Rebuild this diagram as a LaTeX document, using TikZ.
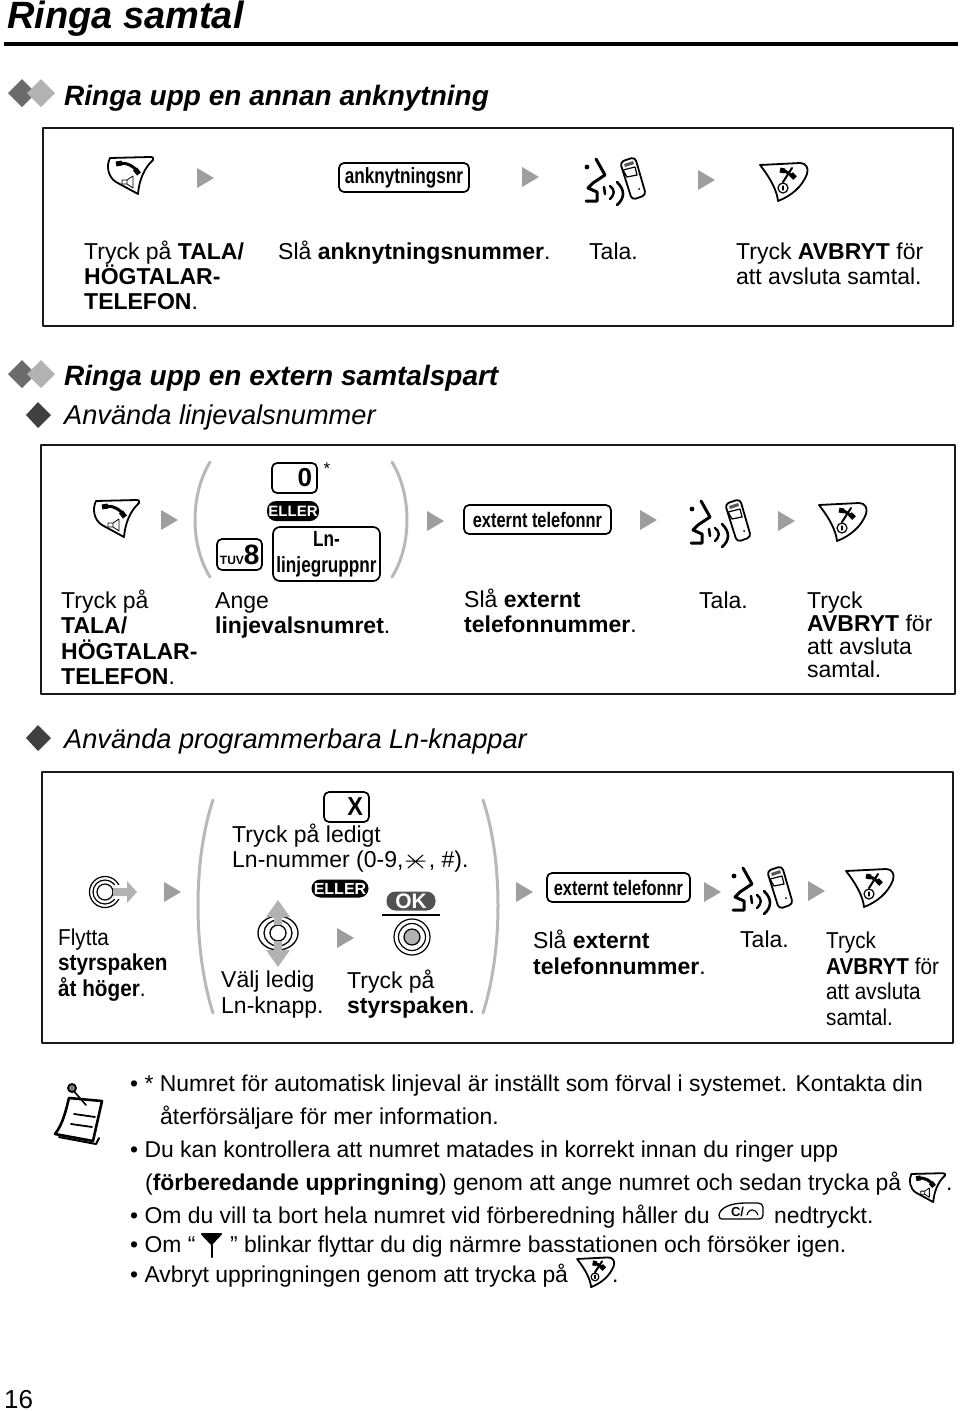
\documentclass[tikz,border=0pt]{standalone}
\usepackage{fontspec}
\setmainfont{Liberation Sans}
\newfontfamily\condfont[FakeStretch=.9]{Liberation Sans}
\newfontfamily\keyfont[FakeStretch=.78]{Liberation Sans}
\newcommand{\stepstrut}{\rule{0pt}{20pt}}
\usepackage{tikz}
\usetikzlibrary{calc,shapes.geometric}

\begin{document}
\begin{tikzpicture}[x=1pt,y=-1pt,line cap=round,line join=round,
  steptext/.style={font=\fontsize{23}{25}\selectfont,align=left,anchor=north west,inner sep=0pt},
  widetext/.style={steptext,font=\fontsize{23}{25.5}\selectfont},
  tighttext/.style={steptext,font=\fontsize{23}{23}\selectfont},
  narrowtext/.style={steptext,font=\condfont\fontsize{23}{25.6}\selectfont},
  notetext/.style={font=\fontsize{22.9}{24}\selectfont,anchor=base west,inner sep=0pt},
  headtext/.style={font=\fontsize{28}{32}\selectfont\bfseries\itshape,anchor=base west,inner sep=0pt},
  subtext/.style={headtext,font=\fontsize{27.2}{30}\selectfont\itshape},
  frame/.style={draw=black!90,line width=2.6pt,line cap=butt},
  paren/.style={draw=black!28,line width=3pt},
  keybox/.style={draw,rounded corners=5pt,line width=1.7pt,inner sep=0pt},
  keytext/.style={keybox,font=\keyfont\bfseries\fontsize{21}{24}\selectfont,align=center,minimum height=29pt},
  stepmark/.style={fill=black!38},
  greyblock/.style={fill=black!30},
  ellerpill/.style={fill=black,text=white,rounded corners=9pt,inner sep=0pt,font=\bfseries\fontsize{15}{15}\selectfont},
  talakey/.pic={
    \draw[line width=1.8pt] (-20,-18)--(20,-19) .. controls (23,-19) and (24,-18) .. (23,-16)
      .. controls (14,-8) and (9,5) .. (8,18) -- (-14,6) .. controls (-22,1) and (-24,-10) .. (-20,-18)--cycle;
    \draw[line width=3pt,line cap=butt] (-12,-12) .. controls (-5,-15) and (6,-9) .. (8,-3);
    \draw[line width=5pt,line cap=butt] (-14,-12)--(-8,-13) (5,-7)--(9,-2);
    \draw[line width=.8pt] (-8,4)--(-3,4)--(3,0)--(3,12)--(-3,8)--(-8,8)--cycle (-3,4)--(-3,8);
  },
  cutkey/.pic={
    \draw[line width=1.8pt] (-23,-18)--(17,-20) .. controls (23,-20) and (26,-15) .. (24,-9)
      .. controls (19,4) and (8,13) .. (-5,18) .. controls (-6,8) and (-12,-4) .. (-23,-18)--cycle;
    \draw[line width=3pt,line cap=butt] (-2,-13) .. controls (3,-12) and (8,-9) .. (11,-5);
    \draw[line width=5pt,line cap=butt] (-3,-13)--(2,-12) (8,-9)--(12,-5);
    \draw[line width=2pt] (0,-1)--(9,-15);
    \draw[line width=1.2pt] (0,5) circle (5);
    \draw[line width=1.2pt] (0,3)--(0,7);
  },
  talkicon/.pic={
    \fill (-28,-15) circle (2.4);
    \draw[line width=3pt] (-19,-23)--(-10,-7)--(-22,1)--(-27,6)--(-18,10)--(-18,19)--(-29,19);
    \draw[line width=2.6pt] (-11,5)--(-10,12);
    \draw[line width=2.4pt] (-5,4) .. controls (0,8) and (0,12) .. (-5,17);
    \draw[line width=2.6pt] (2,0) .. controls (10,8) and (10,16) .. (2,23);
    \draw[line width=1.8pt,rounded corners=4pt] (5,-20)--(20,-25)--(31,13)--(17,18)--cycle;
    \draw[line width=1.2pt] (8,-12)--(20,-15)--(22,-7)--(12,-5)--cycle;
    \fill[black!65] (9,-18)--(18,-21)--(19,-18)--(10,-15)--cycle;
    \fill (24,7) circle (1);
  },
  movering/.pic={
    \draw[line width=1.2pt] (0,0) circle (8);
    \draw[line width=1.2pt] (0,0) circle (12);
    \draw[line width=1.2pt] (0,0) circle (15.5);
  },
  scrollring/.pic={
    \draw[line width=1.3pt] (0,0) circle (8);
    \draw[line width=1.3pt] (0,0) ellipse (14 and 13);
    \draw[line width=1.3pt] (0,0) ellipse (20 and 17);
  },
  pressbutton/.pic={
    \fill[black!30,draw=black,line width=1.2pt] (0,0) circle (8);
    \draw[line width=1.2pt] (0,0) circle (13.5);
    \draw[line width=1.2pt] (0,0) circle (18);
  }]
  \useasboundingbox (0,0) rectangle (960,1411);

  % Page heading.
  \node[font=\fontsize{38}{42}\selectfont\bfseries\itshape,anchor=base west,inner sep=0pt] (titleline) at (7,28) {Ringa samtal};
  \draw[line width=3.4pt,line cap=butt] (4,44)--(958,44);

  % Section markers.
  \foreach \y in {93,374}{
    \fill[black!58] (8,\y)--(22,\y-14)--(36,\y)--(22,\y+14)--cycle;
    \fill[black!30] (27,\y)--(41,\y-14)--(55,\y)--(41,\y+14)--cycle;
  }
  \foreach \y in {415,738}
    \fill[black!75] (26,\y)--(38,\y-13)--(51,\y)--(38,\y+13)--cycle;
  \node[headtext] (headone) at (64,105) {Ringa upp en annan anknytning};
  \node[headtext] (headtwo) at (64,385) {Ringa upp en extern samtalspart};
  \node[subtext] (subone) at (64,424) {Använda linjevalsnummer};
  \node[subtext] (subtwo) at (64,748) {Använda programmerbara Ln-knappar};

  % Frames.
  \draw[frame] (43,128) rectangle (953,326);
  \draw[frame] (41,445) rectangle (955,694);
  \draw[frame] (42,772) rectangle (953,1043);

  % Grey step arrows.
  \foreach \x/\y in {205/178,530/177,706/180,169/520,435/521,648/520,786/521,172/892,524/892,712/892,816/891,345/938}
    \fill[stepmark] (\x-8,\y-10)--(\x+9,\y)--(\x-8,\y+10)--cycle;

  % First frame.
  \pic at (130,176) {talakey};
  \node[keytext,minimum width=130pt,font=\keyfont\bfseries\fontsize{22}{24}\selectfont] (extkey) at (404,177.5) {anknytningsnr};
  \pic at (615,182) {talkicon};
  \pic at (783,183) {cutkey};
  \node[steptext] (oneA) at (84,239) {\stepstrut Tryck på \textbf{TALA/}\\\textbf{HÖGTALAR-}\\\textbf{TELEFON}.};
  \node[steptext] (oneB) at (278,239) {\stepstrut Slå \textbf{anknytningsnummer}.};
  \node[steptext] (oneC) at (589,239) {\stepstrut Tala.};
  \node[steptext] (oneD) at (736,239) {\stepstrut Tryck \textbf{AVBRYT} för\\att avsluta samtal.};

  % Second frame.
  \pic at (116,519) {talakey};
  \draw[paren] (210,462) .. controls (190,495) and (190,545) .. (210,577);
  \draw[paren] (392,462) .. controls (412,495) and (412,545) .. (392,577);
  \node[keybox,minimum width=45pt,minimum height=30pt,text width=35pt,align=right,font=\bfseries\fontsize{26}{28}\selectfont] (zerokey) at (294.5,478) {0};
  \node[font=\fontsize{17}{18}\selectfont,inner sep=0pt] (zerostar) at (327,469) {*};
  \node[ellerpill,minimum width=52pt,minimum height=20pt] (ellerA) at (293,511) {ELLER};
  \node[keybox,minimum width=45pt,minimum height=31pt,text width=40pt,align=right] (eightkey) at (239.5,554.5)
    {\fontsize{12}{12}\selectfont\bfseries TUV\fontsize{28}{28}\selectfont 8};
  \node[keytext,minimum width=107pt,minimum height=54pt,rounded corners=7pt,font=\keyfont\bfseries\fontsize{22}{26}\selectfont] (groupkey) at (326.5,554) {Ln-\\linjegruppnr};
  \node[keytext,minimum width=147pt] (extB) at (537.5,519.5) {externt telefonnr};
  \pic at (720,524) {talkicon};
  \pic at (842,523) {cutkey};
  \node[widetext] (twoA) at (61,588) {\stepstrut Tryck på\\\textbf{TALA/}\\\textbf{HÖGTALAR-}\\\textbf{TELEFON}.};
  \node[steptext] (twoB) at (215,588) {\stepstrut Ange\\\textbf{linjevalsnumret}.};
  \node[widetext] (twoC) at (464,587) {\stepstrut Slå \textbf{externt}\\\textbf{telefonnummer}.};
  \node[steptext] (twoD) at (699,588) {\stepstrut Tala.};
  \node[tighttext] (twoE) at (807,588) {\stepstrut Tryck\\\textbf{AVBRYT} för\\att avsluta\\samtal.};

  % Third frame.
  \pic at (105,892) {movering};
  \fill[white] (114,885) rectangle (122,899);
  \fill[greyblock] (113,888)--(127,888)--(127,881)--(137,892)--(127,903)--(127,896)--(113,896)--cycle;
  \draw[paren] (213,800) .. controls (193,860) and (193,950) .. (213,1013);
  \draw[paren] (483,800) .. controls (503,860) and (503,950) .. (483,1013);
  \node[keybox,minimum width=45pt,minimum height=30pt,text width=33pt,align=right,font=\condfont\bfseries\fontsize{26}{28}\selectfont] (xkey) at (346.5,807) {X};
  \node[steptext] (threeB) at (232,822) {\stepstrut Tryck på ledigt\\Ln-nummer (0-9, \hspace{19pt}, \#).};
  \draw[line width=1pt] (408,855)--(423,868) (423,855)--(408,868) (406,861)--(425,861);
  \node[ellerpill,minimum width=57pt,minimum height=18pt,font=\bfseries\fontsize{16}{16}\selectfont] (ellerB) at (340,888.5) {ELLER};
  \node[fill=black!68,text=white,rounded corners=9pt,inner sep=0pt,minimum width=49pt,minimum height=19pt,font=\bfseries\fontsize{21}{21}\selectfont] (okpill) at (411,901) {OK};
  \draw[line width=2pt,line cap=butt] (382,915)--(440,915);
  \pic at (412,937) {pressbutton};
  % Scroll ring with up and down arrows.
  \pic at (278,933) {scrollring};
  \fill[greyblock] (274,925)--(274,917)--(266,917)--(278,900)--(290,917)--(282,917)--(282,925)--cycle;
  \fill[greyblock] (274,941)--(274,950)--(266,950)--(278,967)--(290,950)--(282,950)--(282,941)--cycle;
  \node[keytext,minimum width=143pt] (extC) at (618.5,887.5) {externt telefonnr};
  \pic at (762,891) {talkicon};
  \pic at (869,889) {cutkey};
  \node[narrowtext] (threeA) at (58,925) {\stepstrut Flytta\\\textbf{styrspaken}\\\textbf{åt höger}.};
  \node[widetext] (threeC) at (221,967.5) {\stepstrut Välj ledig\\Ln-knapp.};
  \node[steptext] (threeD) at (347,968.5) {\stepstrut Tryck på\\\textbf{styrspaken}.};
  \node[widetext] (threeE) at (533,928.5) {\stepstrut Slå \textbf{externt}\\\textbf{telefonnummer}.};
  \node[steptext] (threeF) at (740,927) {\stepstrut Tala.};
  \node[narrowtext] (threeG) at (826,928.5) {\stepstrut Tryck\\\textbf{AVBRYT} för\\att avsluta\\samtal.};

  % Notes.
  \draw[line width=2pt,fill=white] (59,1137)--(96,1144)--(99,1138);
  \draw[line width=2.6pt,fill=white] (69,1098)--(102,1101)--(93,1141)--(55,1134) .. controls (63,1124) and (66,1110) .. (69,1098)--cycle;
  \draw[line width=1.8pt] (74,1114)--(95,1117) (71,1124)--(92,1127);
  \draw[line width=1.6pt] (72,1089)--(86,1105);
  \fill[black!50,draw=black,line width=1.8pt] (72,1088) circle (4);
  \node[notetext] (noteA) at (130,1091) {• * Numret för automatisk linjeval är inställt som förval i systemet. Kontakta din};
  \node[notetext] (noteB) at (160,1124) {återförsäljare för mer information.};
  \node[notetext] (noteC) at (130,1157) {• Du kan kontrollera att numret matades in korrekt innan du ringer upp};
  \node[notetext] (noteD) at (145,1190) {(\textbf{förberedande uppringning}) genom att ange numret och sedan trycka på};
  \node[notetext] (noteE) at (946,1190) {.};
  \pic[scale=.78] at (927,1188) {talakey};
  \node[notetext] (noteF) at (130,1223) {• Om du vill ta bort hela numret vid förberedning håller du};
  \draw[line width=1.3pt] (722,1219)--(758,1219) .. controls (762,1219) and (763,1217) .. (763,1215)--(763,1207)
    .. controls (763,1205) and (761,1203) .. (758,1203)--(745,1203) .. controls (730,1203) and (720,1208) .. (719,1215)
    .. controls (719,1218) and (720,1219) .. (722,1219)--cycle;
  \node[font=\fontsize{13}{13}\selectfont\bfseries,inner sep=0pt] (clearkey) at (737.5,1212) {C/};
  \draw[line width=1.1pt] (747,1215) .. controls (749,1208) and (755,1208) .. (758,1215);
  \node[notetext] (noteG) at (774,1223) {nedtryckt.};
  \node[notetext] (noteH) at (130,1252) {• Om “};
  \draw[line width=2pt,fill=black] (202,1234)--(221,1234)--(211.5,1244)--cycle;
  \draw[line width=2pt] (211.5,1234)--(211.5,1257);
  \node[notetext] (noteI) at (230,1252) {” blinkar flyttar du dig närmre basstationen och försöker igen.};
  \node[notetext] (noteJ) at (130,1282) {• Avbryt uppringningen genom att trycka på};
  \pic[scale=.78] at (595,1273) {cutkey};
  \node[notetext] (noteK) at (612,1282) {.};
  \node[font=\fontsize{26}{28}\selectfont,anchor=base west,inner sep=0pt] (pageno) at (4,1408) {16};
\end{tikzpicture}
\end{document}
